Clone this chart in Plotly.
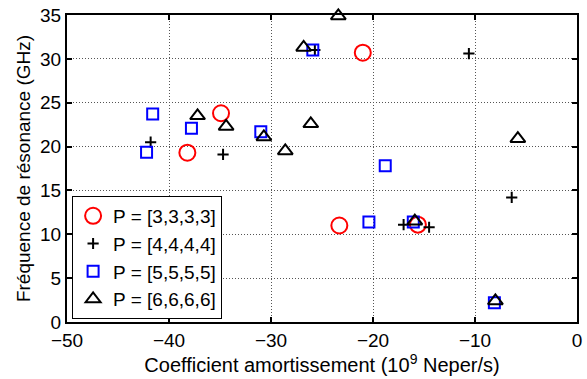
import plotly.graph_objects as go

# Coefficient amortissement (1e9 Neper/s) and resonance frequency (GHz), per P
p3_x = [-34.9, -38.2, -21.0, -23.3, -15.6]
p3_y = [23.8, 19.3, 30.7, 11.0, 11.1]

p4_x = [-41.8, -34.7, -25.7, -10.6, -6.4, -17.0, -14.5]
p4_y = [20.5, 19.1, 31.0, 30.6, 14.2, 11.1, 10.8]

p5_x = [-41.6, -42.2, -37.8, -31.0, -25.9, -18.8, -20.4, -16.05, -8.1]
p5_y = [23.7, 19.35, 22.1, 21.7, 31.0, 17.8, 11.4, 11.4, 2.2]

p6_x = [-37.2, -34.4, -30.7, -28.6, -26.8, -26.1, -23.4, -5.8, -15.9, -8.0]
p6_y = [23.5, 22.3, 21.1, 19.5, 31.3, 22.6, 34.9, 20.9, 11.5, 2.4]

font = "Liberation Sans, Arial, sans-serif"
fsize = 19

fig = go.Figure()
fig.add_trace(go.Scatter(x=p3_x, y=p3_y, mode="markers", name="P = [3,3,3,3]",
                         marker=dict(symbol="circle-open", size=16, color="red",
                                     line=dict(width=2, color="red"))))
fig.add_trace(go.Scatter(x=p4_x, y=p4_y, mode="markers", name="P = [4,4,4,4]",
                         marker=dict(symbol="cross-thin-open", size=8, color="black",
                                     line=dict(width=2, color="black"))))
fig.add_trace(go.Scatter(x=p5_x, y=p5_y, mode="markers", name="P = [5,5,5,5]",
                         marker=dict(symbol="square-open", size=11, color="blue",
                                     line=dict(width=2, color="blue"))))
fig.add_trace(go.Scatter(x=p6_x, y=p6_y, mode="markers", name="P = [6,6,6,6]",
                         marker=dict(symbol="triangle-up-open", size=13, color="black",
                                     line=dict(width=2, color="black"))))
fig.update_traces(cliponaxis=False)

axis_common = dict(
    showline=True, linecolor="black", linewidth=2, mirror="ticks",
    ticks="inside", ticklen=5, tickwidth=2, tickcolor="black",
    showgrid=True, gridcolor="#555", griddash="1px,2px", gridwidth=1,
    zeroline=False, tickfont=dict(size=fsize, color="black", family=font),
)

fig.update_xaxes(range=[-50, 0], dtick=10, tickformat="d",
                 title=dict(text="Coefficient amortissement (10<sup>9</sup> Neper/s)",
                            font=dict(size=20, color="black", family=font), standoff=4),
                 **axis_common)
fig.update_yaxes(range=[0, 35], dtick=5,
                 title=dict(text="Fréquence de résonance (GHz)",
                            font=dict(size=fsize, color="black", family=font), standoff=4),
                 **axis_common)

fig.update_layout(
    width=587, height=379,
    margin=dict(l=67, r=5, t=14, b=57),
    plot_bgcolor="white", paper_bgcolor="white",
    font=dict(family=font, color="black", size=fsize),
    legend=dict(x=0.01, y=0.01, xanchor="left", yanchor="bottom",
                bordercolor="black", borderwidth=1, bgcolor="white",
                font=dict(size=fsize), tracegroupgap=0, itemsizing="trace"),
)

# the page body has a default 8px margin; drop it so the figure sits at 0,0
fig.write_html("out.html", config={"displayModeBar": False},
               post_script="document.body.style.margin='0';")
